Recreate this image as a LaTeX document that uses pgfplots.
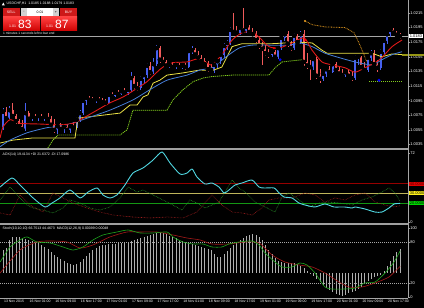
\documentclass[border=0pt]{standalone}
\usepackage{pgfplots}
\pgfplotsset{compat=1.18}
\usepackage{pgfplotstable}
\usepackage{fontspec}
\setmainfont{Liberation Sans}
\definecolor{bullc}{RGB}{70,95,240}
\definecolor{bearc}{RGB}{240,90,90}
\definecolor{mared}{RGB}{225,25,25}
\definecolor{mablue}{RGB}{70,125,215}
\definecolor{mayel}{RGB}{235,225,70}
\definecolor{magrn}{RGB}{130,205,30}
\definecolor{maorg}{RGB}{215,145,30}
\definecolor{adxc}{RGB}{80,215,225}
\definecolor{lvred}{RGB}{150,0,0}
\definecolor{lvyel}{RGB}{190,180,90}
\definecolor{lvgrn}{RGB}{20,150,20}
\definecolor{btnred}{RGB}{205,25,25}
\definecolor{olivebar}{RGB}{150,150,20}
\definecolor{digrn}{RGB}{40,150,40}
\definecolor{dired}{RGB}{160,30,30}
\definecolor{stgrn}{RGB}{30,165,30}
\definecolor{stred}{RGB}{165,25,25}
\definecolor{histc}{RGB}{175,175,175}
\newcommand{\tf}{\fontsize{4}{4.5}\selectfont}
\newcommand{\smf}{\fontsize{3.5}{4}\selectfont}

\pgfplotstableread{
x o h l c
0 1.0059 1.0085 1.0055 1.0080
2 1.0071 1.0088 1.0070 1.0082
7 1.0056 1.0092 1.0054 1.0078
9 1.0070 1.0075 1.0067 1.0073
11 1.0071 1.0075 1.0067 1.0074
13 1.0071 1.0075 1.0067 1.0073
17 1.0055 1.0063 1.0049 1.0060
19 1.0056 1.0062 1.0051 1.0059
21 1.0055 1.0062 1.0051 1.0060
23 1.0058 1.0073 1.0055 1.0069
24 1.0069 1.0082 1.0066 1.0078
25 1.0078 1.0097 1.0075 1.0095
26 1.0095 1.0101 1.0089 1.0099
29 1.0095 1.0100 1.0092 1.0097
33 1.0092 1.0106 1.0091 1.0103
35 1.0101 1.0108 1.0100 1.0106
37 1.0104 1.0111 1.0103 1.0108
39 1.0106 1.0112 1.0103 1.0110
40 1.0110 1.0134 1.0107 1.0126
43 1.0112 1.0129 1.0110 1.0125
44 1.0125 1.0133 1.0119 1.0130
45 1.0130 1.0147 1.0126 1.0143
47 1.0134 1.0154 1.0132 1.0145
48 1.0145 1.0171 1.0143 1.0167
52 1.0143 1.0147 1.0140 1.0144
54 1.0141 1.0147 1.0138 1.0144
56 1.0141 1.0145 1.0138 1.0143
58 1.0141 1.0166 1.0140 1.0163
59 1.0163 1.0170 1.0159 1.0164
66 1.0137 1.0147 1.0133 1.0144
67 1.0144 1.0152 1.0140 1.0149
68 1.0149 1.0162 1.0145 1.0158
69 1.0158 1.0174 1.0154 1.0170
70 1.0170 1.0178 1.0164 1.0174
71 1.0174 1.0196 1.0171 1.0192
74 1.0188 1.0197 1.0185 1.0195
76 1.0191 1.0199 1.0188 1.0196
84 1.0158 1.0164 1.0155 1.0162
86 1.0155 1.0170 1.0152 1.0167
87 1.0167 1.0184 1.0164 1.0181
88 1.0181 1.0189 1.0177 1.0186
91 1.0167 1.0188 1.0164 1.0184
93 1.0175 1.0191 1.0173 1.0186
97 1.0141 1.0155 1.0137 1.0152
100 1.0125 1.0134 1.0122 1.0132
101 1.0132 1.0141 1.0128 1.0138
103 1.0134 1.0148 1.0133 1.0145
107 1.0130 1.0137 1.0128 1.0134
110 1.0126 1.0158 1.0123 1.0154
111 1.0154 1.0158 1.0144 1.0155
114 1.0137 1.0156 1.0134 1.0154
115 1.0154 1.0164 1.0149 1.0160
118 1.0140 1.0166 1.0137 1.0162
119 1.0162 1.0180 1.0159 1.0177
120 1.0177 1.0189 1.0173 1.0186
121 1.0186 1.0195 1.0182 1.0192
}\bull

\pgfplotstableread{
x o h l c
1 1.0080 1.0086 1.0069 1.0071
3 1.0082 1.0092 1.0073 1.0074
4 1.0074 1.0077 1.0063 1.0067
5 1.0067 1.0070 1.0058 1.0060
6 1.0060 1.0069 1.0054 1.0056
8 1.0078 1.0081 1.0067 1.0070
10 1.0073 1.0077 1.0069 1.0071
12 1.0074 1.0077 1.0069 1.0071
14 1.0073 1.0078 1.0069 1.0070
15 1.0070 1.0074 1.0059 1.0062
16 1.0062 1.0070 1.0051 1.0055
18 1.0060 1.0064 1.0054 1.0056
20 1.0059 1.0063 1.0052 1.0055
22 1.0060 1.0066 1.0055 1.0058
27 1.0099 1.0101 1.0093 1.0096
28 1.0096 1.0100 1.0092 1.0095
30 1.0097 1.0100 1.0092 1.0095
31 1.0095 1.0099 1.0091 1.0093
32 1.0093 1.0097 1.0089 1.0092
34 1.0103 1.0107 1.0099 1.0101
36 1.0106 1.0110 1.0101 1.0104
38 1.0108 1.0112 1.0104 1.0106
41 1.0126 1.0129 1.0111 1.0115
42 1.0115 1.0121 1.0108 1.0112
46 1.0143 1.0148 1.0130 1.0134
49 1.0167 1.0170 1.0147 1.0151
50 1.0151 1.0155 1.0145 1.0148
51 1.0148 1.0151 1.0140 1.0143
53 1.0144 1.0148 1.0140 1.0141
55 1.0144 1.0147 1.0138 1.0141
57 1.0143 1.0147 1.0137 1.0141
60 1.0164 1.0167 1.0155 1.0158
61 1.0158 1.0163 1.0151 1.0154
62 1.0154 1.0158 1.0147 1.0149
63 1.0149 1.0154 1.0143 1.0145
64 1.0145 1.0149 1.0134 1.0138
65 1.0138 1.0145 1.0134 1.0137
72 1.0192 1.0215 1.0186 1.0189
73 1.0189 1.0197 1.0185 1.0188
75 1.0195 1.0222 1.0188 1.0191
77 1.0196 1.0199 1.0186 1.0189
78 1.0189 1.0195 1.0185 1.0186
79 1.0186 1.0191 1.0174 1.0178
80 1.0178 1.0184 1.0166 1.0170
81 1.0170 1.0175 1.0144 1.0166
82 1.0166 1.0171 1.0156 1.0160
83 1.0160 1.0166 1.0154 1.0158
85 1.0162 1.0164 1.0152 1.0155
89 1.0186 1.0191 1.0169 1.0173
90 1.0173 1.0177 1.0163 1.0167
92 1.0184 1.0186 1.0173 1.0175
94 1.0186 1.0192 1.0143 1.0148
95 1.0148 1.0160 1.0138 1.0143
96 1.0143 1.0151 1.0123 1.0141
98 1.0152 1.0155 1.0125 1.0129
99 1.0129 1.0138 1.0119 1.0125
102 1.0138 1.0143 1.0132 1.0134
104 1.0145 1.0148 1.0134 1.0137
105 1.0137 1.0143 1.0129 1.0132
106 1.0132 1.0138 1.0128 1.0130
108 1.0134 1.0138 1.0126 1.0129
109 1.0129 1.0134 1.0122 1.0126
112 1.0155 1.0156 1.0138 1.0141
113 1.0141 1.0148 1.0134 1.0137
116 1.0160 1.0164 1.0143 1.0145
117 1.0145 1.0151 1.0134 1.0140
122 1.0192 1.0195 1.0185 1.0188
123 1.0188 1.0191 1.0182 1.0185
124 1.0185 1.0188 1.0179 1.0183
}\bear

\pgfplotstableread{
x m
0 0.00091
1 0.00099
2 0.00131
3 0.00143
4 0.00143
5 0.00143
6 0.00139
7 0.00135
8 0.00131
9 0.00127
10 0.00123
11 0.00119
12 0.00111
13 0.00103
14 0.00095
15 0.00083
16 0.00071
17 0.00063
18 0.00055
19 0.00048
20 0.00040
21 0.00036
22 0.00032
23 0.00036
24 0.00044
25 0.00055
26 0.00067
27 0.00079
28 0.00091
29 0.00099
30 0.00107
31 0.00111
32 0.00111
33 0.00115
34 0.00115
35 0.00115
36 0.00119
37 0.00119
38 0.00119
39 0.00123
40 0.00127
41 0.00131
42 0.00135
43 0.00139
44 0.00143
45 0.00147
46 0.00150
47 0.00154
48 0.00158
49 0.00162
50 0.00158
51 0.00154
52 0.00147
53 0.00143
54 0.00139
55 0.00131
56 0.00127
57 0.00123
58 0.00119
59 0.00115
60 0.00111
61 0.00107
62 0.00103
63 0.00099
64 0.00095
65 0.00091
66 0.00075
67 0.00063
68 0.00063
69 0.00075
70 0.00087
71 0.00099
72 0.00111
73 0.00123
74 0.00131
75 0.00139
76 0.00147
77 0.00150
78 0.00154
79 0.00150
80 0.00143
81 0.00131
82 0.00111
83 0.00091
84 0.00075
85 0.00059
86 0.00048
87 0.00044
88 0.00040
89 0.00040
90 0.00040
91 0.00040
92 0.00036
93 0.00028
94 0.00020
95 0.00008
96 -0.00004
97 -0.00012
98 -0.00024
99 -0.00036
100 -0.00048
101 -0.00059
102 -0.00067
103 -0.00075
104 -0.00083
105 -0.00087
106 -0.00091
107 -0.00087
108 -0.00079
109 -0.00075
110 -0.00071
111 -0.00063
112 -0.00055
113 -0.00044
114 -0.00032
115 -0.00024
116 -0.00016
117 -0.00012
118 -0.00008
119 0.00008
120 0.00028
121 0.00048
122 0.00067
123 0.00083
124 0.00095
}\macd

\pgfplotsset{
  mt/.style={
    scale only axis, width=408pt, anchor=south west,
    xmin=-0.94, xmax=126.56,
    axis line style={draw=none},
    xtick=\empty,
    ytick pos=right, yticklabel pos=right,
    tick style={draw=gray!80, line width=0.4pt},
    major tick length=1.5pt, tick align=outside,
    yticklabel style={font=\tf, text=white, inner sep=0.6pt},
  },
  wick/.style={only marks, mark=none, forget plot,
    error bars/.cd, y dir=both, y explicit, error mark=none,
    error bar style={line width=0.5pt, draw=#1}},
}

\begin{document}
\begin{tikzpicture}
\fill[black] (0pt,0pt) rectangle (424pt,308pt);
\path[use as bounding box] (0pt,0pt) rectangle (424pt,308pt);

% ---------------- price panel ----------------
\begin{axis}[mt, at={(0pt,160pt)}, height=148pt,
  ymin=1.00302, ymax=1.02328, clip=false,
  ytick={1.0035,1.0055,1.0075,1.0095,1.0115,1.0135,1.0155,1.0175,1.0195,1.0215},
  yticklabels={1.0035,1.0055,1.0075,1.0095,1.0115,1.0135,1.0155,1.0175,1.0195,1.0215}]
\addplot[gray!70, line width=0.4pt] coordinates {(-0.94,1.0183) (126.56,1.0183)};
% wicks
\addplot[wick=bullc] table[x=x, y=c, y error plus expr=\thisrow{h}-\thisrow{c}, y error minus expr=\thisrow{c}-\thisrow{l}] {\bull};
\addplot[wick=bearc] table[x=x, y=c, y error plus expr=\thisrow{h}-\thisrow{c}, y error minus expr=\thisrow{c}-\thisrow{l}] {\bear};
% bodies
\addplot[only marks, mark=none, error bars/.cd, y dir=minus, y explicit, error mark=none,
  error bar style={line width=2.1pt, draw=bullc}]
  table[x=x, y=c, y error minus expr=\thisrow{c}-\thisrow{o}] {\bull};
\addplot[only marks, mark=none, error bars/.cd, y dir=plus, y explicit, error mark=none,
  error bar style={line width=2.1pt, draw=bearc}]
  table[x=x, y=c, y error plus expr=\thisrow{o}-\thisrow{c}] {\bear};
% green dashed stepped line
\addplot[magrn, line width=0.8pt, dash pattern=on 1.2pt off 0.8pt] coordinates {
(14,1.0030) (15.6,1.0041) (17.2,1.0048) (23.1,1.0048) (36.6,1.0048) (38.75,1.0055) (40.6,1.0082)
(51.25,1.0082) (53.1,1.0096) (56.25,1.0110) (59.4,1.0121) (62.5,1.0126) (65.3,1.0128)
(71.6,1.0130) (83.1,1.0130) (85,1.0140) (87.2,1.0148) (93.4,1.0151)};
\addplot[magrn, line width=0.8pt, dash pattern=on 1.2pt off 0.8pt] coordinates {(114.4,1.0121) (124.7,1.0121)};
% yellow line
\addplot[mayel, line width=0.8pt] coordinates {
(-0.9,1.0037) (3.1,1.0041) (9.4,1.0044) (22.5,1.0044) (23.4,1.0071) (27.2,1.0073) (36.6,1.0078)
(39.7,1.0089) (41.9,1.0089) (43.75,1.0100) (45.3,1.0103) (46.9,1.0119) (49,1.0123) (51.25,1.0130)
(56.25,1.0133) (61.6,1.0137) (65.3,1.0136) (68.4,1.0141) (71.6,1.0169) (74.7,1.0173) (84.1,1.0173)
(92.5,1.0175) (96.6,1.0174) (99.7,1.0164) (101.25,1.0160) (115.3,1.0160) (118.4,1.0155)
(121.6,1.0159) (124.7,1.0158)};
\addplot[olivebar, line width=2.2pt] coordinates {(124.7,1.0158) (131.5,1.0158)};
% blue MA
\addplot[mablue, line width=0.8pt, smooth, tension=0.4] coordinates {
(-0.9,1.0032) (2.2,1.0041) (7.5,1.0051) (13.75,1.0058) (20,1.0062) (26.25,1.0071) (33.4,1.0082)
(40.6,1.0096) (45.9,1.0110) (51.25,1.0123) (57.5,1.0130) (61.6,1.0137) (65.3,1.0140) (69.4,1.0154)
(73.75,1.0167) (77.8,1.0171) (83.1,1.0171) (89.4,1.0171) (92.8,1.0174) (96.6,1.0169) (100.6,1.0160)
(105,1.0154) (110,1.0148) (115.3,1.0144) (118.4,1.0151) (121.6,1.0158) (124.7,1.0162)};
% red MA
\addplot[mared, line width=0.9pt, smooth, tension=0.4] coordinates {
(-0.9,1.0044) (0,1.0059) (2.2,1.0069) (5.3,1.0064) (11.6,1.0063) (17.8,1.0062) (21.9,1.0064)
(25,1.0071) (29.4,1.0082) (33.4,1.0092) (37.5,1.0100) (41.9,1.0112) (45,1.0121) (48.1,1.0134)
(50,1.0141) (53.1,1.0147) (57.5,1.0148) (60.6,1.0152) (63.1,1.0148) (65.3,1.0144) (68.4,1.0158)
(71.6,1.0178) (74.7,1.0188) (77.8,1.0189) (80,1.0182) (83.1,1.0169) (86.3,1.0167) (90.3,1.0174)
(94.1,1.0181) (96.6,1.0164) (99.7,1.0148) (102.8,1.0144) (106.9,1.0140) (110,1.0134)
(113.1,1.0140) (116.3,1.0147) (118.4,1.0154) (121.6,1.0169) (124.7,1.0178)};
% orange dotted
\addplot[maorg, line width=0.8pt, dash pattern=on 0.8pt off 0.8pt] coordinates {
(94.4,1.0204) (96.6,1.0199) (100.6,1.0196) (106.9,1.0195) (109.7,1.0188) (111.25,1.0174)
(112.8,1.0158) (113.75,1.0148)};
% signal markers
\addplot[only marks, mark=*, mark size=1.3pt, blue, mark options={fill=blue}] coordinates {(86.6,1.0151) (117.5,1.0123)};
\addplot[only marks, mark=asterisk, mark size=1.3pt, red] coordinates {(84.7,1.0167) (94.4,1.0178)};
\addplot[only marks, mark=*, mark size=0.9pt, maorg] coordinates {(94.4,1.0204)};
\node[fill=white, text=black, font=\tf, inner sep=0.6pt, anchor=west] at (axis cs:126.9,1.0183) {1.0183};
\end{axis}

% ---------------- ADX panel ----------------
\begin{axis}[mt, at={(0pt,85pt)}, height=73pt, ymin=-1.04, ymax=75.16,
  ytick={0,72}, yticklabels={0,72}, clip=false]
\addplot[lvred, line width=0.6pt] coordinates {(-0.94,40) (126.56,40)};
\addplot[lvyel, line width=0.6pt] coordinates {(-0.94,30) (126.56,30)};
\addplot[lvgrn, line width=0.6pt] coordinates {(-0.94,20) (126.56,20)};
\addplot[digrn, line width=0.6pt, dash pattern=on 0.6pt off 0.9pt] coordinates {
(-0.9,23.0) (2.2,36.5) (5.3,25.1) (7.5,17.7) (9.4,14.6) (12.5,12.5) (15.6,9.4) (18.75,14.6)
(20.9,23.0) (24.1,19.8) (27.2,14.6) (30.3,12.5) (33.4,15.7) (36.6,25.1) (39.1,36.5) (41.9,31.3)
(43.75,33.4) (46.9,28.2) (50,23.0) (53.1,17.7) (55.9,12.5) (58.4,23.0) (60.6,19.8) (63.1,14.6)
(65.3,17.7) (67.5,20.9) (69.4,31.3) (71.6,43.8) (73.75,35.5) (75.6,31.3) (78.75,20.9) (81.9,15.7)
(85,10.4) (87.2,26.1) (89.4,30.3) (92.5,23.0) (95.6,15.7) (98.75,19.8) (101.9,20.9) (105,19.8)
(109.1,17.7) (112.2,23.0) (115.3,26.1) (118.4,31.3) (120.6,35.5) (122.5,30.3) (124.1,21.6)};
\addplot[dired, line width=0.6pt, dash pattern=on 0.6pt off 0.9pt] coordinates {
(-0.9,9.4) (2.2,7.3) (5.3,28.2) (8.4,17.7) (12.5,10.4) (15.6,30.3) (18.75,25.1) (21.9,19.8)
(26.25,14.6) (30.3,10.4) (34.4,7.3) (40.6,5.2) (45.9,4.2) (51.25,5.2) (56.25,4.2) (60.6,10.4)
(65.3,28.2) (68.4,17.7) (71.6,10.4) (74.7,9.4) (77.8,7.3) (80.9,14.6) (83.1,23.0) (86.3,25.1)
(90.3,25.1) (94.4,30.3) (97.5,28.2) (100.6,20.9) (103.75,25.1) (106.9,23.0) (110,28.2)
(113.1,30.3) (116.25,20.9) (119.4,17.7) (122.2,15.7) (124.1,17.1)};
\addplot[adxc, line width=0.9pt, smooth, tension=0.4] coordinates {
(-0.9,36.5) (2.8,45.9) (5.3,38.6) (9.4,25.1) (13.1,15.7) (15.3,19.8) (17.8,25.1) (20.9,33.4)
(24.1,25.1) (26.6,31.3) (29.4,35.5) (31.25,28.2) (33.4,25.1) (35.6,28.2) (38.1,38.6) (40.6,51.1)
(43.75,56.4) (46.9,64.7) (49.7,73.1) (52.2,61.6) (55.3,50.1) (57.5,51.1) (59.1,55.3) (60.6,47.0)
(63.1,39.7) (65.3,40.7) (67.5,36.5) (69.1,30.3) (70.6,33.4) (72.5,38.6) (74.7,40.7) (77.8,43.8)
(80,36.5) (81.6,35.5) (84.7,35.5) (86.3,30.3) (87.8,26.1) (90.3,25.1) (92.5,19.8) (94.4,17.7)
(97.5,15.7) (100.6,18.8) (103.4,15.7) (106.6,15.7) (109.1,14.6) (110,15.7) (113.1,13.6)
(116.25,10.4) (118.4,10.4) (120.6,14.6) (122.2,18.8) (124.1,19.4)};
\node[fill=red!90!black, text=red!30!black, font=\tf, inner sep=0.6pt, anchor=west] at (axis cs:126.9,40) {40.0000};
\node[fill=yellow!90!white, text=black, font=\tf, inner sep=0.6pt, anchor=west] at (axis cs:126.9,30) {30.0000};
\node[fill=green!85!black, text=black, font=\tf, inner sep=0.6pt, anchor=west] at (axis cs:126.9,20) {20.0000};
\node[anchor=north west, text=white, font=\smf, inner sep=0.5pt] at (rel axis cs:0.005,0.97) {ADX(14) 19.4134 +DI 21.6372 -DI 17.0986};
\end{axis}

% ---------------- MACD histogram (overlay) ----------------
\begin{axis}[mt, at={(0pt,10pt)}, height=73pt, ymin=-0.00099, ymax=0.0019, ytick=\empty]
\addplot[ycomb, draw=histc, line width=0.55pt] table[x=x, y=m] {\macd};
\end{axis}

% ---------------- Stochastic panel ----------------
\begin{axis}[mt, at={(0pt,10pt)}, height=73pt, ymin=-1.45, ymax=104.35,
  ytick={0,20,80,100}, yticklabels={0,20,80,100},
  xtick={0,8,...,120}, xtick pos=bottom,
  xticklabels={13 Nov 2015,16 Nov 01:00,16 Nov 09:00,16 Nov 17:00,17 Nov 01:00,17 Nov 09:00,17 Nov 17:00,18 Nov 01:00,18 Nov 09:00,18 Nov 17:00,19 Nov 01:00,19 Nov 09:00,19 Nov 17:00,20 Nov 01:00,20 Nov 09:00,20 Nov 17:00},
  xticklabel style={font=\smf, text=white, anchor=north west, inner sep=0.6pt, xshift=0.3pt}]
\addplot[gray!70, line width=0.4pt, dash pattern=on 1pt off 1pt] coordinates {(-0.94,80) (126.56,80)};
\addplot[gray!70, line width=0.4pt, dash pattern=on 1pt off 1pt] coordinates {(-0.94,20) (126.56,20)};
\addplot[stred, line width=0.6pt, smooth, tension=0.4] coordinates {
(-0.9,34.8) (5.3,68.1) (10.6,79.7) (14.7,81.2) (20,79.7) (24.1,71.0) (28.1,75.4) (33.4,87.0)
(38.75,94.2) (42.8,94.2) (48.1,94.2) (53.1,89.9) (57.5,85.5) (61.6,82.6) (65.3,76.8) (70.6,76.8)
(75.6,79.7) (80,78.3) (84.1,60.9) (88.1,50.7) (92.5,46.4) (96.6,43.5) (100.6,34.8) (105,21.7)
(108.1,14.5) (112.2,14.5) (116.25,20.3) (120.6,29.0) (124.1,44.5)};
\addplot[stgrn, line width=0.6pt, smooth, tension=0.4] coordinates {
(-0.9,50.7) (2.2,72.5) (5.3,82.6) (7.5,87.0) (10.6,79.7) (14.7,78.3) (18.75,72.5) (21.9,68.1)
(25,72.5) (28.1,82.6) (31.25,89.9) (35.6,94.2) (39.1,97.1) (42.8,92.8) (46.9,92.8) (51.25,94.2)
(53.1,87.0) (56.25,79.7) (59.4,76.8) (62.5,76.8) (65.3,72.5) (68.4,72.5) (70.6,76.8) (73.75,79.7)
(77.8,81.2) (80,75.4) (81.9,63.8) (85,50.7) (87.2,43.5) (90.3,43.5) (92.8,49.3) (95,46.4)
(97.5,34.8) (100.6,14.5) (102.8,11.6) (106.9,11.6) (110,13.0) (113.1,20.3) (116.25,21.7)
(119.4,34.8) (122.2,50.7) (124.1,66.8)};
\node[anchor=north west, text=white, font=\smf, inner sep=0.5pt] at (rel axis cs:0.005,0.985) {Stoch(10,10,10) 66.7513 44.4673 \ MACD(12,26,9) 0.00099 0.00048};
\end{axis}

% ---------------- frame lines ----------------
\draw[gray!75, line width=1.1pt] (0pt,159pt) -- (408pt,159pt);
\draw[gray!75, line width=1.1pt] (0pt,84pt) -- (408pt,84pt);
\draw[gray!70, line width=0.5pt] (0pt,10pt) -- (408pt,10pt);
\draw[gray!70, line width=0.5pt] (408pt,10pt) -- (408pt,308pt);

% ---------------- header / one-click trading ----------------
\fill[white] (1.8pt,302.6pt) -- (4.8pt,302.6pt) -- (3.3pt,305.4pt) -- cycle;
\node[anchor=west, text=white, font=\smf, inner sep=0pt] at (6.5pt,304pt) {USDCHF,H1 \ 1.0185 1.0188 1.0179 1.0183};
\fill[btnred] (3pt,291.5pt) rectangle (19.5pt,300pt);
\node[text=white, font=\smf] at (11.2pt,295.8pt) {SELL};
\fill[white] (21pt,292pt) rectangle (59pt,300pt);
\fill[gray!35] (21pt,292pt) rectangle (27pt,300pt);
\fill[gray!35] (53pt,292pt) rectangle (59pt,300pt);
\node[text=black, font=\smf] at (24pt,296pt) {-};
\node[text=black, font=\smf] at (56pt,296pt) {+};
\node[text=black, font=\smf] at (40pt,296pt) {0.01};
\fill[btnred] (60pt,291.5pt) rectangle (77pt,300pt);
\node[text=white, font=\smf] at (68.5pt,295.8pt) {BUY};
\shade[top color=red!75!white, bottom color=red!80!black] (3pt,277pt) rectangle (40pt,291pt);
\shade[top color=red!75!white, bottom color=red!80!black] (41pt,277pt) rectangle (77pt,291pt);
\node[text=white, font=\smf, anchor=base west, inner sep=0pt] at (9pt,280pt) {1.01};
\node[text=white, font=\fontsize{12}{12}\selectfont, anchor=base west, inner sep=0pt] at (18pt,279.5pt) {83};
\node[text=white, font=\smf, anchor=base west, inner sep=0pt] at (46pt,280pt) {1.01};
\node[text=white, font=\fontsize{12}{12}\selectfont, anchor=base west, inner sep=0pt] at (55pt,279.5pt) {87};
\node[anchor=west, text=white, font=\fontsize{3.3}{3.6}\selectfont, inner sep=0pt] at (3pt,274.5pt) {1 minutes 1 seconds left to bar end};
\end{tikzpicture}
\end{document}
